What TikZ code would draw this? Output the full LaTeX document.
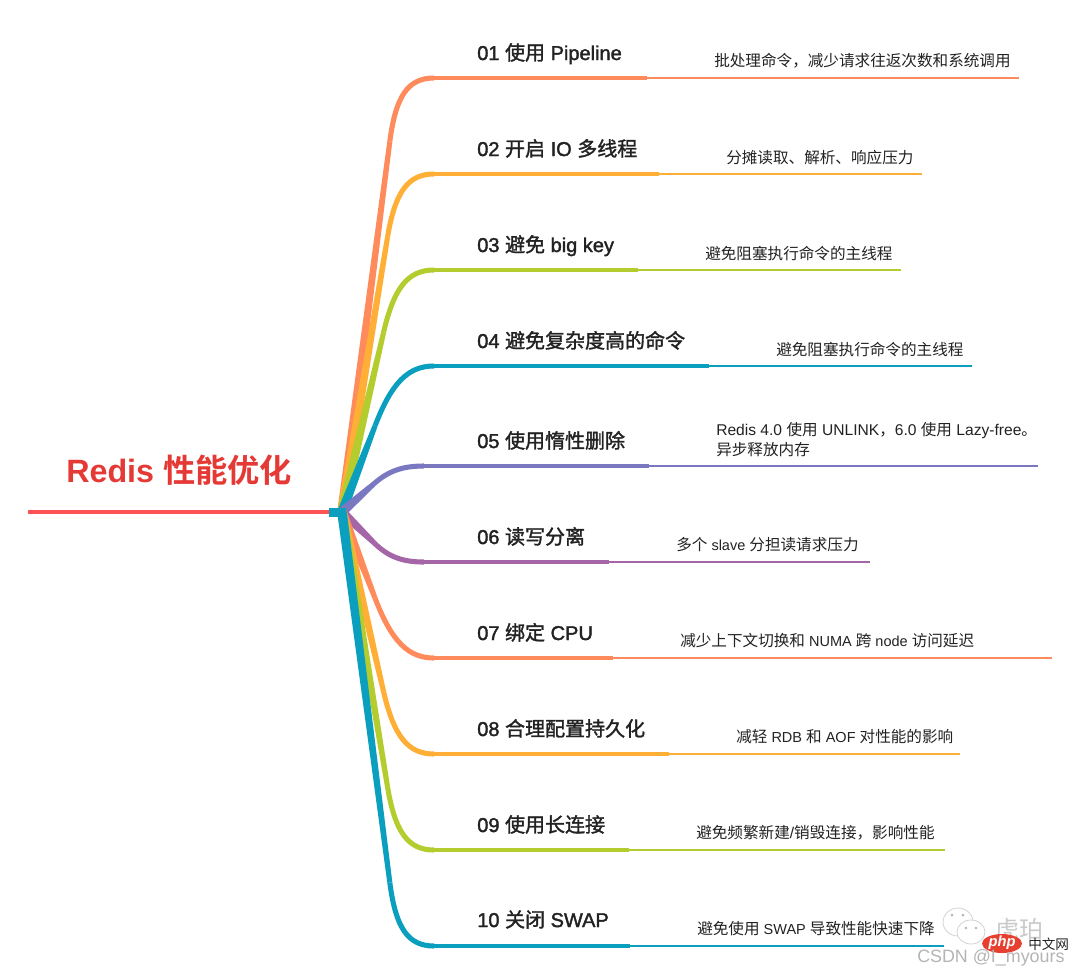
\documentclass[tikz,border=0pt]{standalone}
\usepackage{fontspec}
\setmainfont{Liberation Sans}
\newfontfamily\zhplain{Noto Sans CJK SC}
\newfontfamily\zhmed[FakeBold=1.6]{Noto Sans CJK SC}
\newfontfamily\latmed[FakeBold=1.8]{Liberation Sans}
\newfontfamily\latnar[Scale=0.93]{Liberation Sans}
\newfontfamily\zhbold{Noto Sans CJK SC Bold}[BoldFont={Noto Sans CJK SC Bold}]
\usetikzlibrary{calc}
\definecolor{cCoral}{HTML}{FF8A5B}
\definecolor{cOrange}{HTML}{FFAE36}
\definecolor{cGreen}{HTML}{B5CC2E}
\definecolor{cTeal}{HTML}{0A9FBF}
\definecolor{cIndigo}{HTML}{7B78C2}
\definecolor{cPurple}{HTML}{A566A8}
\definecolor{cRed}{HTML}{E53935}
\definecolor{cMain}{HTML}{FF5252}
\definecolor{cInk}{HTML}{222222}
\definecolor{cMark}{HTML}{B4B4B4}
\newcommand{\zm}[1]{{\zhmed #1}}
\newcommand{\zp}[1]{{\zhplain #1}}
\newcommand{\lnr}[1]{{\latnar #1}}
\tikzset{
  titlelabel/.style={anchor=base west,inner sep=0pt,font=\fontsize{24.2pt}{28pt}\selectfont,text=cRed},
  toplabel/.style={anchor=base west,inner sep=0pt,font=\fontsize{15pt}{18pt}\selectfont\latmed,text=cInk},
  sublabel/.style={anchor=base west,inner sep=0pt,font=\fontsize{11.7pt}{15pt}\selectfont,text=cInk,align=left},
  thickpart/.style={line width=3pt},
  curvepart/.style={line width=3.8pt},
  thinpart/.style={line width=1.5pt},
  markword/.style={anchor=base west,inner sep=0pt,text=cMark},
}
% id, colour, y, end of thick part, end of thin part, corner x, corner distance (pt), elbow end x
\newcommand{\branchline}[8]{%
  \coordinate (c#1) at (#6,#3);
  \coordinate (a#1) at ($(c#1)!#7pt!(root)$);
  \coordinate (b#1) at (#8,#3);
  \coordinate (t#1) at (#4,#3);
  \coordinate (e#1) at (#5,#3);
  \fill[#2] ($(root)!3.6pt!90:(c#1)$) -- ($(a#1)!1.9pt!90:(c#1)$) -- ($(a#1)!1.9pt!-90:(c#1)$) -- ($(root)!3.6pt!-90:(c#1)$) -- cycle;
  \draw[#2,curvepart] (a#1) .. controls ($(a#1)!.72!(c#1)$) and ($(b#1)!.72!(c#1)$) .. (b#1);
  \draw[#2,thickpart] (b#1) -- (t#1);
  \draw[#2,thinpart] (t#1) -- (e#1);
}
\begin{document}
\begin{tikzpicture}[x=0.75pt,y=-0.75pt]
\useasboundingbox (0,0) rectangle (1080,976);
\fill[white] (0,0) rectangle (1080,976);
\coordinate (root) at (342,512);
\coordinate (start) at (28,512);
\branchline{01}{cCoral}{78}{647}{1019}{398}{48}{434}
\branchline{02}{cOrange}{174}{659}{922}{398}{48}{434}
\branchline{03}{cGreen}{270}{638}{901}{398}{48}{434}
\branchline{04}{cTeal}{366}{709}{972}{398}{48}{434}
\branchline{05}{cIndigo}{466}{649}{1038}{394}{20}{424}
\branchline{06}{cPurple}{562}{609}{870}{394}{20}{424}
\branchline{07}{cCoral}{658}{613}{1052}{398}{48}{434}
\branchline{08}{cOrange}{754}{669}{960}{398}{48}{434}
\branchline{09}{cGreen}{850}{629}{945}{398}{48}{434}
\branchline{10}{cTeal}{946}{630}{944}{398}{48}{434}
\draw[cMain,line width=3pt] (start) -- (330,512);
\fill[cTeal] (329,508) rectangle (346,517);
\node[titlelabel] (title) at (66,482) {\bfseries Redis \zhbold 性能优化};
\node[toplabel] (l01) at (477,60) {01 \zm{使用} Pipeline};
\node[toplabel] (l02) at (477,156) {02 \zm{开启} IO \zm{多线程}};
\node[toplabel] (l03) at (477,252) {03 \zm{避免} big key};
\node[toplabel] (l04) at (477,348) {04 \zm{避免复杂度高的命令}};
\node[toplabel] (l05) at (477,448) {05 \zm{使用惰性删除}};
\node[toplabel] (l06) at (477,544) {06 \zm{读写分离}};
\node[toplabel] (l07) at (477,640) {07 \zm{绑定} CPU};
\node[toplabel] (l08) at (477,736) {08 \zm{合理配置持久化}};
\node[toplabel] (l09) at (477,832) {09 \zm{使用长连接}};
\node[toplabel] (l10) at (477,927) {10 \zm{关闭} SWAP};
\node[sublabel] (s01) at (714,66) {\zp{批处理命令，减少请求往返次数和系统调用}};
\node[sublabel] (s02) at (726,163) {\zp{分摊读取、解析、响应压力}};
\node[sublabel] (s03) at (705,259) {\zp{避免阻塞执行命令的主线程}};
\node[sublabel] (s04) at (776,355) {\zp{避免阻塞执行命令的主线程}};
\node[sublabel] (s05a) at (716,435) {Redis 4.0 \zp{使用} UNLINK\zp{，}6.0 \zp{使用} Lazy-free\zp{。}};
\node[sublabel] (s05b) at (716,455) {\zp{异步释放内存}};
\node[sublabel] (s06) at (676,550) {\zp{多个}\lnr{ slave }\zp{分担读请求压力}};
\node[sublabel] (s07) at (680,646) {\zp{减少上下文切换和}\lnr{ NUMA }\zp{跨}\lnr{ node }\zp{访问延迟}};
\node[sublabel] (s08) at (736,742) {\zp{减轻}\lnr{ RDB }\zp{和}\lnr{ AOF }\zp{对性能的影响}};
\node[sublabel] (s09) at (696,838) {\zp{避免频繁新建}/\zp{销毁连接，影响性能}};
\node[sublabel] (s10) at (697,934) {\zp{避免使用}\lnr{ SWAP }\zp{导致性能快速下降}};
% watermark
\draw[cMark!60,line width=.6pt,fill=white] (958,922) ellipse (15 and 14);
\draw[cMark!60,line width=.6pt,fill=white] (971,932) ellipse (14 and 12);
\fill[cMark] (952,915) circle (1.5) (963,915) circle (1.5) (966,928) circle (1.3) (976,928) circle (1.3);
\node[markword,font=\fontsize{18pt}{20pt}\selectfont\zhplain,text=cMark!70] (m1) at (995,938) {虎珀};
\fill[cRed!90!orange] (1002,943.5) ellipse (20 and 9.5);
\node[anchor=center,inner sep=0pt,text=white,font=\fontsize{11pt}{12pt}\selectfont\bfseries\itshape] (m2) at (1002,943) {php};
\node[markword,font=\fontsize{10.2pt}{12pt}\selectfont\zhplain,text=cInk] (m3) at (1028,949) {中文网};
\node[markword,font=\fontsize{13.4pt}{16pt}\selectfont] (m4) at (917,962) {CSDN @I\_myours};
\end{tikzpicture}
\end{document}
